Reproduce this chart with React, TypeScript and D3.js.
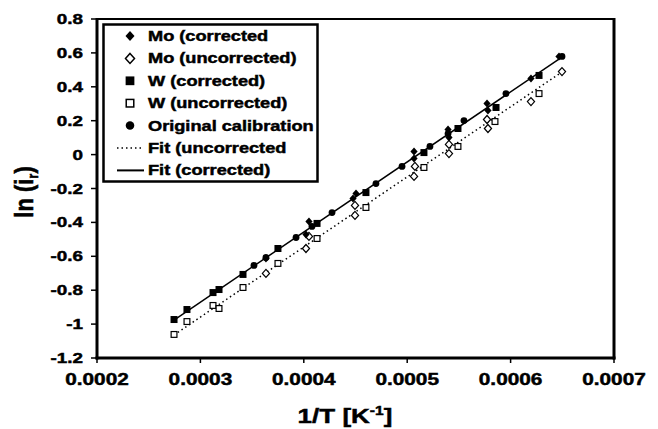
import React from "react";
import * as d3 from "d3";

// Reduced current ln(i_r) against inverse temperature 1/T.
// Each series: [1/T (K^-1), ln(i_r)]
const moCorrected: [number, number][] = [
  [0.0003634, -0.613], [0.0004021, -0.471], [0.000405, -0.395],
  [0.0004476, -0.259], [0.0004505, -0.23], [0.0005066, 0.018],
  [0.0005066, -0.023], [0.0005395, 0.148], [0.0005404, 0.101],
  [0.0005772, 0.301], [0.0005781, 0.26], [0.0006197, 0.449],
  [0.0006468, 0.579],
];
const moUncorrected: [number, number][] = [
  [0.0003634, -0.701], [0.0004021, -0.554], [0.000405, -0.483],
  [0.0004495, -0.359], [0.0004495, -0.3], [0.0005066, -0.129],
  [0.0005075, -0.07], [0.0005404, 0.006], [0.0005404, 0.06],
  [0.0005772, 0.207], [0.0005781, 0.154], [0.0006197, 0.313],
  [0.0006497, 0.49],
];
const wCorrected: [number, number][] = [
  [0.0002745, -0.973], [0.000287, -0.914], [0.0003122, -0.814],
  [0.000318, -0.796], [0.0003412, -0.707], [0.000375, -0.554],
  [0.0004128, -0.406], [0.0004601, -0.224], [0.0005162, 0.012],
  [0.0005491, 0.154], [0.0005859, 0.278], [0.0006275, 0.467],
];
const wUncorrected: [number, number][] = [
  [0.0002745, -1.061], [0.000287, -0.985], [0.0003122, -0.89],
  [0.000318, -0.908], [0.0003412, -0.784], [0.000375, -0.642],
  [0.0004128, -0.495], [0.0004601, -0.312], [0.0005162, -0.076],
  [0.0005491, 0.048], [0.0005849, 0.195], [0.0006275, 0.36],
];
const originalCalibration: [number, number][] = [
  [0.0003518, -0.654], [0.0003634, -0.607], [0.0003925, -0.489],
  [0.0004079, -0.424], [0.0004273, -0.342], [0.0004698, -0.171],
  [0.000495, -0.07], [0.000522, 0.048], [0.0005395, 0.124],
  [0.0005549, 0.201], [0.0005955, 0.36], [0.0006497, 0.579],
];
// Linear fits, given by their end points
const fitUncorrected: [number, number][] = [[0.0002745, -1.064], [0.00065, 0.489]];
const fitCorrected: [number, number][] = [[0.0002745, -0.976], [0.00065, 0.577]];

const xTicks = [0.0002, 0.0003, 0.0004, 0.0005, 0.0006, 0.0007];
const yTicks = [-1.2, -1, -0.8, -0.6, -0.4, -0.2, 0, 0.2, 0.4, 0.6, 0.8];

const legendLabels = [
  "Mo (corrected",
  "Mo (uncorrected)",
  "W (corrected)",
  "W (uncorrected)",
  "Original calibration",
  "Fit (uncorrected",
  "Fit (corrected)",
];

const FONT = "'Liberation Sans', Arial, Helvetica, sans-serif";
const SX = 1.3; // horizontal widening of the bold face

const x = d3.scaleLinear().domain([0.0002, 0.0007]).range([97, 614]);
const y = d3.scaleLinear().domain([-1.2, 0.8]).range([358, 19]);

type Kind = "diamondFilled" | "diamondOpen" | "squareFilled" | "squareOpen" | "circle";

function Marker({ kind, cx, cy, s = 1 }: { kind: Kind; cx: number; cy: number; s?: number }) {
  if (kind === "diamondFilled" || kind === "diamondOpen") {
    const h = 4 * s, w = 3.6 * s;
    const d = `M${cx},${cy - h}L${cx + w},${cy}L${cx},${cy + h}L${cx - w},${cy}Z`;
    return kind === "diamondFilled" ? (
      <path d={d} fill="#000" />
    ) : (
      <path d={d} fill="#fff" stroke="#000" strokeWidth={1.2 * s} />
    );
  }
  if (kind === "squareFilled" || kind === "squareOpen") {
    const h = 3.5 * s;
    return kind === "squareFilled" ? (
      <rect x={cx - h} y={cy - h} width={2 * h} height={2 * h} fill="#000" />
    ) : (
      <rect x={cx - h + 0.6} y={cy - h + 0.6} width={2 * h - 1.2} height={2 * h - 1.2} fill="#fff" stroke="#000" strokeWidth={1.2 * s} />
    );
  }
  return <circle cx={cx} cy={cy} r={3.4 * s} fill="#000" />;
}

function Wide({ x0, y0, size, anchor = "start", children, sx = SX }: any) {
  return (
    <text
      transform={`translate(${x0},${y0}) scale(${sx},1)`}
      fontFamily={FONT}
      fontWeight="bold"
      fontSize={size}
      textAnchor={anchor}
      fill="#000"
      stroke="#000"
      strokeWidth={0.45}
    >
      {children}
    </text>
  );
}

export default function App() {
  const line = d3.line<[number, number]>().x((d) => x(d[0])).y((d) => y(d[1]));
  const series: { data: [number, number][]; kind: Kind }[] = [
    { data: wUncorrected, kind: "squareOpen" },
    { data: moUncorrected, kind: "diamondOpen" },
    { data: wCorrected, kind: "squareFilled" },
    { data: originalCalibration, kind: "circle" },
    { data: moCorrected, kind: "diamondFilled" },
  ];
  const legendKinds: (Kind | "dotted" | "solid")[] = [
    "diamondFilled", "diamondOpen", "squareFilled", "squareOpen", "circle", "dotted", "solid",
  ];

  return (
    <svg
      width={658}
      height={429}
      style={{ position: "absolute", left: 0, top: 0, background: "#fff" }}
    >
      <rect width={658} height={429} fill="#fff" />

      {/* fits */}
      <path d={line(fitUncorrected) || ""} fill="none" stroke="#000" strokeWidth={1.5} strokeDasharray="1.5,3" />
      <path d={line(fitCorrected) || ""} fill="none" stroke="#000" strokeWidth={1.5} />

      {/* points */}
      {series.map((s, i) => (
        <g key={i}>
          {s.data.map((d, j) => (
            <Marker key={j} kind={s.kind} cx={x(d[0])} cy={y(d[1])} />
          ))}
        </g>
      ))}

      {/* frame */}
      <line x1={97} x2={614} y1={19} y2={19} stroke="#000" strokeWidth={2} />
      <line x1={614} x2={614} y1={18} y2={359.5} stroke="#000" strokeWidth={3} />
      <line x1={95.5} x2={615.5} y1={358} y2={358} stroke="#000" strokeWidth={3} />
      <line x1={97} x2={97} y1={18} y2={359.5} stroke="#000" strokeWidth={3} />

      {/* y ticks */}
      {yTicks.map((t) => (
        <g key={t}>
          <line x1={91} x2={97} y1={y(t)} y2={y(t)} stroke="#000" strokeWidth={1.5} />
          <Wide x0={83} y0={y(t) + 5} size={14.5} anchor="end">
            {String(t)}
          </Wide>
        </g>
      ))}

      {/* x ticks */}
      {xTicks.map((t) => (
        <g key={t}>
          <line x1={x(t)} x2={x(t)} y1={358} y2={363} stroke="#000" strokeWidth={1.5} />
          <Wide x0={x(t)} y0={385} size={16} anchor="middle">
            {t.toFixed(4)}
          </Wide>
        </g>
      ))}

      {/* axis titles */}
      <Wide x0={345} y0={423} size={20} anchor="middle">
        1/T [K<tspan fontSize={12} dy={-8}>-1</tspan>
        <tspan dy={8}>]</tspan>
      </Wide>
      <text
        transform="translate(33,192) rotate(-90) scale(1,1.15)"
        fontFamily={FONT}
        fontWeight="bold"
        fontSize={22}
        textAnchor="middle"
        stroke="#000"
        strokeWidth={0.5}
      >
        ln (i<tspan fontSize={13} dy={4}>r</tspan>
        <tspan dy={-4}>)</tspan>
      </text>

      {/* legend */}
      <rect x={103.5} y={24.5} width={214} height={157} fill="#fff" stroke="#000" strokeWidth={2.5} />
      {legendLabels.map((lab, i) => {
        const base = 41 + i * 22.4;
        const cy = base - 5;
        const k = legendKinds[i];
        return (
          <g key={lab}>
            {k === "dotted" ? (
              <line x1={117} x2={141} y1={cy} y2={cy} stroke="#000" strokeWidth={1.5} strokeDasharray="1.5,3" />
            ) : k === "solid" ? (
              <line x1={117} x2={144} y1={cy} y2={cy} stroke="#000" strokeWidth={2} />
            ) : (
              <Marker kind={k as Kind} cx={130} cy={cy} s={1.25} />
            )}
            <Wide x0={148} y0={base} size={14}>
              {lab}
            </Wide>
          </g>
        );
      })}
    </svg>
  );
}
